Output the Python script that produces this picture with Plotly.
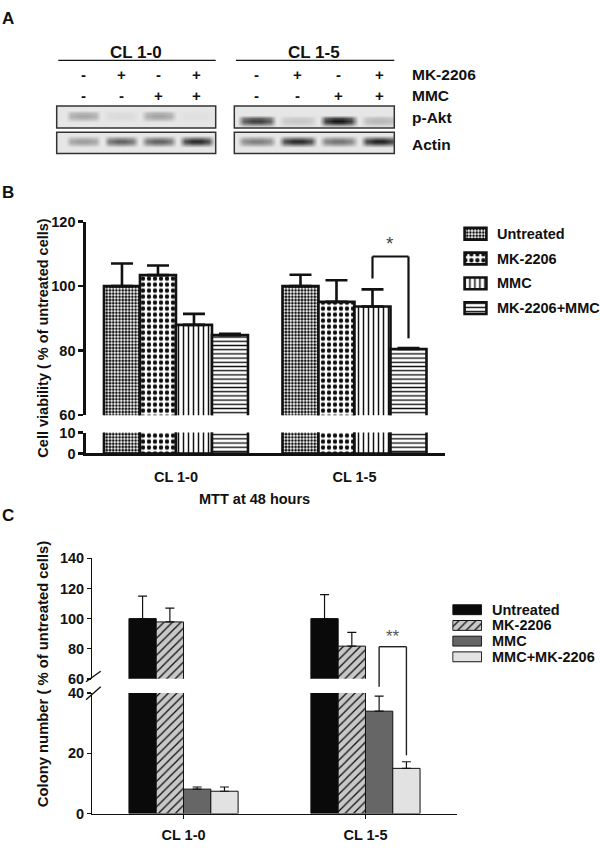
import plotly.graph_objects as go

W, H = 600, 848
def X(px): return px / W
def Y(py): return 1 - py / H

FONT = "Liberation Sans, Arial, sans-serif"
BLACK = "#111111"

# ---------------- Panel A : western blot ----------------
lanes = [0, 1, 2, 3]
mk2206_signs = ["-", "+", "-", "+"]
mmc_signs = ["-", "-", "+", "+"]
blot_groups = ["CL 1-0", "CL 1-5"]
row_labels = ["MK-2206", "MMC", "p-Akt", "Actin"]
pakt_cl10 = [0.32, 0.06, 0.34, 0.03]
pakt_cl15 = [0.80, 0.16, 0.98, 0.24]
actin_cl10 = [0.38, 0.66, 0.66, 0.90]
actin_cl15 = [0.52, 0.90, 0.58, 0.94]

# ---------------- Panel B : MTT ----------------
cell_lines = ["CL 1-0", "CL 1-5"]
b_series = ["Untreated", "MK-2206", "MMC", "MK-2206+MMC"]
b_untreated = [100.0, 100.0]
b_mk2206 = [103.4, 95.1]
b_mmc = [88.0, 93.7]
b_combo = [84.8, 80.5]
b_untreated_err = [7.0, 3.5]
b_mk2206_err = [3.0, 6.7]
b_mmc_err = [3.4, 5.3]
b_combo_err = [0.4, 0.3]
b_xlabel = "MTT at 48 hours"
b_ytitle = "Cell viability ( % of untreated cells)"

# ---------------- Panel C : colony ----------------
c_series = ["Untreated", "MK-2206", "MMC", "MMC+MK-2206"]
c_untreated = [100.0, 100.0]
c_mk2206 = [97.8, 81.7]
c_mmc = [8.1, 34.0]
c_combo = [7.4, 15.0]
c_untreated_err = [15.0, 16.0]
c_mk2206_err = [9.2, 9.2]
c_mmc_err = [0.7, 5.0]
c_combo_err = [1.4, 2.2]
c_ytitle = "Colony number ( % of untreated cells)"

fig = go.Figure()

def ann(text, x, y, xref="paper", yref="paper", xanchor="center", yanchor="middle",
        size=14.5, color=BLACK, **kw):
    return dict(text=text, x=x, y=y, xref=xref, yref=yref, xanchor=xanchor,
                yanchor=yanchor, showarrow=False, font=dict(size=size, color=color), **kw)

# ---------- Panel A heatmaps ----------
def band_grid(intens, xr, yc):
    xs = [xr[0] - 0.3]
    hs = [0.0]
    for l, I in zip(lanes, intens):
        for dx, f in [(-0.47, 0.0), (-0.32, 0.8), (-0.1, 1.0), (0.1, 1.0), (0.32, 0.8), (0.47, 0.0)]:
            xs.append(l + dx)
            hs.append(I * f)
    xs.append(max(xr[1], lanes[-1] + 0.47) + 0.3)
    hs.append(0.0)
    ys = [-0.2, yc - 0.28, yc - 0.11, yc, yc + 0.11, yc + 0.28, 1.2]
    vw = [0, 0, 0.8, 1, 0.8, 0, 0]
    z = [[v * h for h in hs] for v in vw]
    return xs, ys, z

blot_specs = [
    (pakt_cl10, "7", [-0.70, 3.50], 0.55, [X(56.7), X(215.7)], [Y(122.3), Y(100)]),
    (pakt_cl15, "8", [-0.55, 3.36], 0.33, [X(234.3), X(394.3)], [Y(122.3), Y(100)]),
    (actin_cl10, "9", [-0.70, 3.50], 0.57, [X(56.7), X(215.7)], [Y(148.3), Y(126.7)]),
    (actin_cl15, "10", [-0.55, 3.36], 0.57, [X(234.3), X(394.3)], [Y(148.3), Y(126.7)]),
]
layout_axes = {}
shapes = []
annotations = []
for intens, k, xr, yc, xd, yd in blot_specs:
    xs, ys, z = band_grid(intens, xr, yc)
    fig.add_trace(go.Heatmap(x=xs, y=ys, z=z, zmin=0, zmax=1, zsmooth="best",
                             colorscale=[[0, "#e6e6e6"], [0.5, "#848484"], [1, "#101010"]],
                             showscale=False, hoverinfo="skip",
                             xaxis="x" + k, yaxis="y" + k))
    layout_axes["xaxis" + k] = dict(domain=xd, range=xr, visible=False, anchor="y" + k)
    layout_axes["yaxis" + k] = dict(domain=yd, range=[0, 1], visible=False, anchor="x" + k)
    shapes.append(dict(type="rect", xref="x%s domain" % k, yref="y%s domain" % k,
                       x0=0, x1=1, y0=0, y1=1, line=dict(color="#333333", width=1.5)))

for k, grp in zip(["7", "8"], blot_groups):
    annotations.append(ann("<b>%s</b>" % grp, 0.5, Y(45), xref="x%s domain" % k, size=17))
    shapes.append(dict(type="line", xref="x%s domain" % k, x0=0.01, x1=1.0,
                       yref="paper", y0=Y(53.3), y1=Y(53.3),
                       line=dict(color=BLACK, width=1.3)))
    for l, s1, s2 in zip(lanes, mk2206_signs, mmc_signs):
        annotations.append(ann("<b>%s</b>" % s1, l, Y(67.7), xref="x" + k, size=15))
        annotations.append(ann("<b>%s</b>" % s2, l, Y(89), xref="x" + k, size=15))

for lab, py in zip(row_labels, [67.7, 89, 111.7, 139]):
    annotations.append(ann("<b>%s</b>" % lab, X(410), Y(py), xanchor="left", size=15.5))

# ---------- Panel B bars ----------
B_W = 36 / 178.5
b_vals = [b_untreated, b_mk2206, b_mmc, b_combo]
b_errs = [b_untreated_err, b_mk2206_err, b_mmc_err, b_combo_err]
b_pats = [dict(shape=".", size=3.2, solidity=0.55),
          dict(shape=".", size=6, solidity=0.42),
          dict(shape="|", size=5, solidity=0.3),
          dict(shape="-", size=4.2, solidity=0.33)]
for i, (name, v, e, pat) in enumerate(zip(b_series, b_vals, b_errs, b_pats)):
    off = -2 * B_W + i * B_W
    mk = dict(color="white", line=dict(color=BLACK, width=2.6),
              pattern=dict(fgcolor=BLACK, bgcolor="white", fillmode="replace", **pat))
    fig.add_trace(go.Bar(x=cell_lines, y=v, width=B_W, offset=off, marker=mk, name=name,
                         showlegend=False, xaxis="x", yaxis="y"))
    fig.add_trace(go.Bar(x=cell_lines, y=v, width=B_W, offset=off, marker=mk, name=name,
                         showlegend=False, xaxis="x2", yaxis="y2",
                         error_y=dict(type="data", symmetric=False, array=e,
                                      arrayminus=[0] * len(e), color=BLACK,
                                      thickness=2.6, width=11)))
    # legend swatch
    fig.add_trace(go.Bar(y=[i], x=[1], orientation="h", width=12 / 25.3, marker=mk,
                         name=name, showlegend=False, hoverinfo="skip",
                         xaxis="x5", yaxis="y5"))
    annotations.append(ann("<b>%s</b>" % name, X(495), i, yref="y5", xanchor="left"))

# ---------- Panel C bars ----------
C_W = 27.3 / 182
c_vals = [c_untreated, c_mk2206, c_mmc, c_combo]
c_errs = [c_untreated_err, c_mk2206_err, c_mmc_err, c_combo_err]
c_colors = ["#0a0a0a", "#c8c8c8", "#666666", "#e2e2e2"]
c_shapes = ["", "/", "", ""]
C_LOW_TOP, C_UP_BOT = 40, 60
for i, (name, v, e, col, shp) in enumerate(zip(c_series, c_vals, c_errs, c_colors, c_shapes)):
    off = -2 * C_W + i * C_W
    mk = dict(color=col, line=dict(color=BLACK, width=1),
              pattern=dict(shape=shp, fgcolor=BLACK, bgcolor=col, size=6, solidity=0.22,
                           fillmode="replace"))
    low_err = [ee if vv < C_LOW_TOP else 0 for vv, ee in zip(v, e)]
    up_vals = [vv if vv >= C_UP_BOT else None for vv in v]
    fig.add_trace(go.Bar(x=cell_lines, y=v, width=C_W, offset=off, marker=mk, name=name,
                         showlegend=False, xaxis="x3", yaxis="y3",
                         error_y=dict(type="data", symmetric=False, array=low_err,
                                      arrayminus=[0] * len(e), color=BLACK,
                                      thickness=1.2, width=4.5)))
    fig.add_trace(go.Bar(x=cell_lines, y=up_vals, width=C_W, offset=off, marker=mk, name=name,
                         showlegend=False, xaxis="x4", yaxis="y4",
                         error_y=dict(type="data", symmetric=False, array=e,
                                      arrayminus=[0] * len(e), color=BLACK,
                                      thickness=1.2, width=4.5)))
    # legend swatch
    fig.add_trace(go.Bar(y=[i], x=[1], orientation="h", width=10 / 15.9, marker=mk,
                         name=name, showlegend=False, hoverinfo="skip",
                         xaxis="x6", yaxis="y6"))
    annotations.append(ann("<b>%s</b>" % name, X(490), i, yref="y6", xanchor="left"))

# ---------- Axes ----------
tickfont = dict(size=14.5, color=BLACK, family=FONT, weight="bold")
def yax(domain, rng, tickvals, anchor, lw, tl):
    return dict(domain=domain, range=rng, tickvals=tickvals, anchor=anchor,
                showline=True, linecolor=BLACK, linewidth=lw, ticks="outside",
                ticklen=tl, tickwidth=lw, tickcolor=BLACK, showgrid=False,
                zeroline=False, tickfont=tickfont, fixedrange=True)

layout_axes.update(
    xaxis=dict(domain=[X(86), X(445)], range=[-0.504, 1.507], type="category", anchor="y",
               showline=True, linecolor=BLACK, linewidth=2.6, ticks="", showgrid=False,
               zeroline=False, tickfont=tickfont, ticklabelstandoff=9),
    xaxis2=dict(domain=[X(86), X(445)], matches="x", type="category", anchor="y2", visible=False),
    yaxis=yax([Y(454), Y(432.7)], [0, 10], [0, 10], "x", 2.6, 5),
    yaxis2=yax([Y(415), Y(217.7)], [60, 120], [60, 80, 100, 120], "x2", 2.6, 5),
    xaxis3=dict(domain=[X(92), X(457)], range=[-0.503, 1.503], type="category", anchor="y3",
                showline=True, linecolor=BLACK, linewidth=1.5, ticks="outside", ticklen=4,
                tickwidth=1.5, tickcolor=BLACK, showgrid=False, zeroline=False,
                tickfont=tickfont, ticklabelstandoff=4),
    xaxis4=dict(domain=[X(92), X(457)], matches="x3", type="category", anchor="y4", visible=False),
    yaxis3=yax([Y(821), Y(698.3)], [0, 40], [0, 20, 40], "x3", 1.5, 3.5),
    yaxis4=yax([Y(683.7), Y(561)], [60, 140], [60, 80, 100, 120, 140], "x4", 1.5, 3.5),
    xaxis5=dict(domain=[X(462.4), X(488.6)], range=[-0.1, 1.1], visible=False, anchor="y5"),
    yaxis5=dict(domain=[Y(318.6), Y(217.4)], range=[3.5, -0.5], visible=False, anchor="x5"),
    xaxis6=dict(domain=[X(452.2), X(482.2)], range=[-0.02, 1.02], visible=False, anchor="y6"),
    yaxis6=dict(domain=[Y(669.3), Y(605.3)], range=[3.5, -0.5], visible=False, anchor="x6"),
)

# ---------- Significance brackets ----------
bx3 = 1 + 0.5 * B_W
bx4 = 1 + 1.5 * B_W
for x0, y0, x1, y1 in [(bx3, 275.7, bx3, 253.3), (bx3, 253.3, bx4, 253.3), (bx4, 253.3, bx4, 336.7)]:
    shapes.append(dict(type="line", xref="x2", yref="paper", x0=x0, x1=x1, y0=Y(y0), y1=Y(y1),
                       line=dict(color=BLACK, width=2.2)))
annotations.append(ann("*", (bx3 + bx4) / 2, Y(240), xref="x2", size=19, color="#444444"))
cx3 = 1 + 0.5 * C_W
cx4 = 1 + 1.5 * C_W
for x0, y0, x1, y1 in [(cx3, 691.7, cx3, 651), (cx3, 651, cx4, 651), (cx4, 651, cx4, 761.7)]:
    shapes.append(dict(type="line", xref="x4", yref="paper", x0=x0, x1=x1, y0=Y(y0), y1=Y(y1),
                       line=dict(color="#222222", width=1.4)))
annotations.append(ann("**", (cx3 + cx4) / 2, Y(641), xref="x4", size=17, color="#555555"))

# axis-break slashes in panel C
for y0, y1 in [(686.7, 676), (705, 691.7)]:
    shapes.append(dict(type="line", xref="paper", yref="paper", x0=X(86), x1=X(100.7),
                       y0=Y(y0), y1=Y(y1), line=dict(color=BLACK, width=1.4)))

# ---------- Titles and panel letters ----------
annotations += [
    ann("<b>%s</b>" % b_ytitle, X(43), Y(337), textangle=-90),
    ann("<b>%s</b>" % c_ytitle, X(43), Y(679), textangle=-90, size=14.8),
    ann("<b>%s</b>" % b_xlabel, X(254), Y(500)),
    ann("<b>A</b>", X(8), Y(11), size=17),
    ann("<b>B</b>", X(8), Y(188), size=17),
    ann("<b>C</b>", X(8), Y(517), size=17),
]

fig.update_layout(
    width=W, height=H, margin=dict(l=0, r=0, t=0, b=0, pad=0),
    paper_bgcolor="white", plot_bgcolor="white", barmode="overlay",
    font=dict(family=FONT, color=BLACK), showlegend=False,
    shapes=shapes, annotations=annotations, **layout_axes,
)

fig.write_html("out.html", config={"displayModeBar": False, "staticPlot": True},
               post_script="document.body.style.margin='0';document.body.style.overflow='hidden';")
